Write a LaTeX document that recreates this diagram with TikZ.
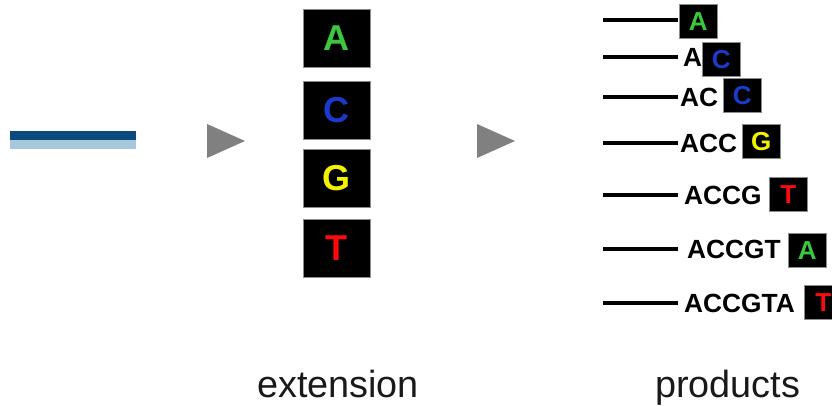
\documentclass[tikz,border=0pt]{standalone}
\usepackage{fontspec}
\setmainfont{Liberation Sans}
\begin{document}
\begin{tikzpicture}[x=1pt,y=-1pt,
  nuc/.style={draw=black!45,line width=0.8pt,fill=black,inner sep=0pt,
    font=\fontsize{36}{36}\selectfont\bfseries,minimum width=67pt,minimum height=58pt},
  smallnuc/.style={draw=black!45,line width=0.6pt,fill=black,inner sep=0pt,anchor=north west,
    font=\fontsize{26}{26}\selectfont\bfseries,minimum width=38pt,minimum height=34pt},
  seq/.style={inner sep=0pt,anchor=base west,font=\fontsize{26.3}{26.3}\selectfont\bfseries},
  strand/.style={line width=4pt,black},
  caption/.style={inner sep=0pt,anchor=base west,text=black!90,font=\fontsize{37.8}{37.8}\selectfont}
]
\definecolor{nA}{HTML}{3CC83C}
\definecolor{nC}{HTML}{1A3ACC}
\definecolor{nG}{HTML}{F2F200}
\definecolor{nT}{HTML}{FF0A0A}
\definecolor{primerdark}{HTML}{0B4A7A}
\definecolor{primerlight}{HTML}{A6C8DC}
\useasboundingbox (0,0) rectangle (832,406);

% primer / template duplex
\fill[primerlight] (10,140) rectangle (136,149);
\fill[primerdark] (10,131) rectangle (136,140);

% step arrows
\fill[black!50] (207,124) -- (245,141) -- (207,158) -- cycle;
\fill[black!50] (477,124) -- (515,141) -- (477,158) -- cycle;

% nucleotides used for extension
\node[nuc,text=nA] (xA) at (336.5,38) {A};
\node[nuc,text=nC] (xC) at (336.5,110.5) {C};
\node[nuc,text=nG] (xG) at (336.5,178.5) {G};
\node[nuc,text=nT] (xT) at (336.5,248) {T};

% extension products
\foreach \i/\ly/\tx/\sq/\bx/\by/\nb in {
  1/20/680/\relax/679/4/A,
  2/57/683/A/702/42/C,
  3/97/680/AC/723/78/C,
  4/143/680/ACC/742/124/G,
  5/195/684/ACCG/769/177/T,
  6/249/687/ACCGT/788/233/A,
  7/303/684/ACCGTA/804/285/T} {
  \coordinate (s\i) at (603,\ly);
  \coordinate (e\i) at (678,\ly);
  \draw[strand] (s\i) -- (e\i);
  \node[seq] (p\i) at (\tx,\ly+9.5) {\sq};
  \node[smallnuc,text=n\nb] (b\i) at (\bx,\by) {\nb};
}

% captions
\node[caption] (cext) at (257,397) {extension};
\node[caption] (cprod) at (655,397) {products};
\end{tikzpicture}
\end{document}
